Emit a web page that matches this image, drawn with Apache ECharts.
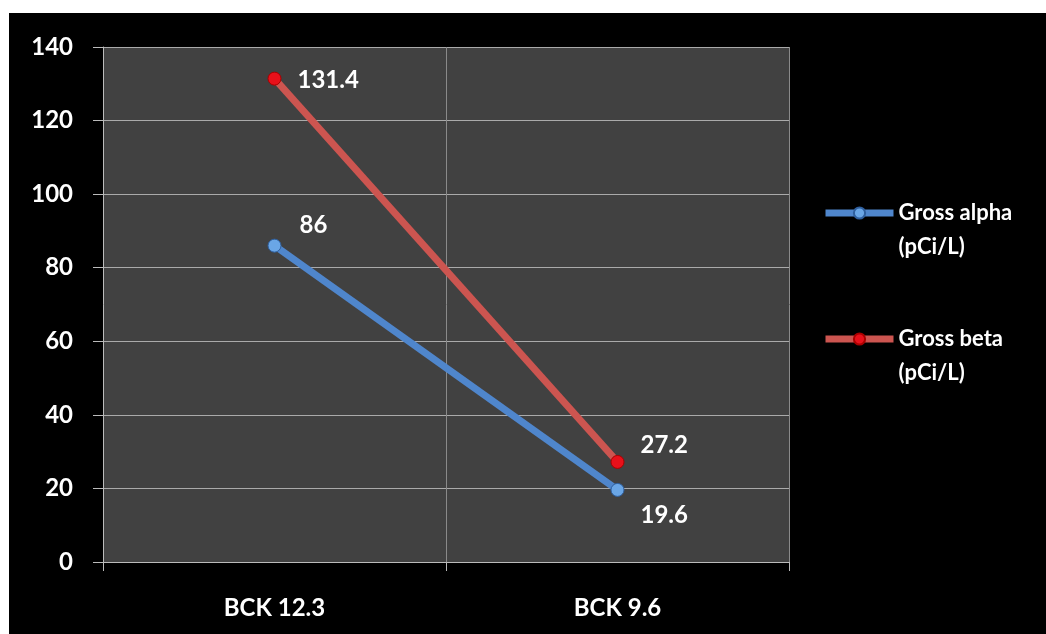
<!DOCTYPE html>
<html><head><meta charset="utf-8">
<script src="https://cdn.jsdelivr.net/npm/echarts@6/dist/echarts.min.js"></script>
<style>
html,body{margin:0;padding:0;background:#fff;width:1046px;height:634px;overflow:hidden}
#c{position:absolute;left:9px;top:13px;width:1037px;height:621px;background:#000}
</style></head><body>
<div id="c"></div>
<script>
const categories = ['BCK 12.3', 'BCK 9.6'];
const alphaValues = [86, 19.6];
const betaValues = [131.4, 27.2];
const seriesNames = ['Gross alpha\n(pCi/L)', 'Gross beta\n(pCi/L)'];
const yTicks = {min: 0, max: 140, interval: 20};

const chart = echarts.init(document.getElementById('c'));
const font = 'Lato';
const lbl = {show: true, color: '#fff', fontWeight: 'bold', fontSize: 24, fontFamily: font, position: 'right', distance: 16};
const alphaOffsets = [[2, -20], [0, 25]];
const betaOffsets = [[0, 2], [0, -17]];
chart.setOption({
  backgroundColor: '#000',
  animation: false,
  grid: {left: 94, top: 34, width: 686, height: 515, backgroundColor: '#414141', show: true, borderWidth: 0},
  legend: {
    orient: 'vertical', left: 808, top: 144, itemGap: 24,
    itemWidth: 68, itemHeight: 14,
    formatter: name => '\n' + name,
    lineStyle: {width: 7},
    textStyle: {color: '#fff', fontWeight: 'bold', fontSize: 22, fontFamily: font, lineHeight: 34},
    data: [{name: seriesNames[0]}, {name: seriesNames[1]}]
  },
  xAxis: {
    type: 'category', data: categories, boundaryGap: true,
    axisLine: {lineStyle: {color: '#bbb', width: 1}},
    axisTick: {show: true, length: 9, lineStyle: {color: '#bbb'}},
    axisLabel: {color: '#fff', fontWeight: 'bold', fontSize: 24, fontFamily: font, margin: 34},
    splitLine: {show: true, lineStyle: {color: '#8a8a8a', width: 1}}
  },
  yAxis: {
    type: 'value', min: yTicks.min, max: yTicks.max, interval: yTicks.interval,
    axisLine: {show: true, lineStyle: {color: '#bbb'}},
    axisTick: {show: true, length: 10, lineStyle: {color: '#bbb'}},
    axisLabel: {color: '#fff', fontWeight: 'bold', fontSize: 24, fontFamily: font, margin: 30},
    splitLine: {lineStyle: {color: '#aaaaaa', width: 1}}
  },
  series: [
    {
      name: seriesNames[0], type: 'line',
      data: alphaValues.map((v, i) => ({value: v, label: {offset: alphaOffsets[i]}})),
      lineStyle: {color: '#4f86cc', width: 7},
      itemStyle: {color: '#6aa6e6', borderColor: '#2f5f9e', borderWidth: 1},
      symbol: 'circle', symbolSize: 13,
      label: lbl,
      emphasis: {disabled: true}
    },
    {
      name: seriesNames[1], type: 'line',
      data: betaValues.map((v, i) => ({value: v, label: {offset: betaOffsets[i]}})),
      lineStyle: {color: '#cc5550', width: 7},
      itemStyle: {color: '#e8101a', borderColor: '#a00', borderWidth: 1},
      symbol: 'circle', symbolSize: 13,
      label: lbl,
      emphasis: {disabled: true}
    }
  ]
});
</script></body></html>
